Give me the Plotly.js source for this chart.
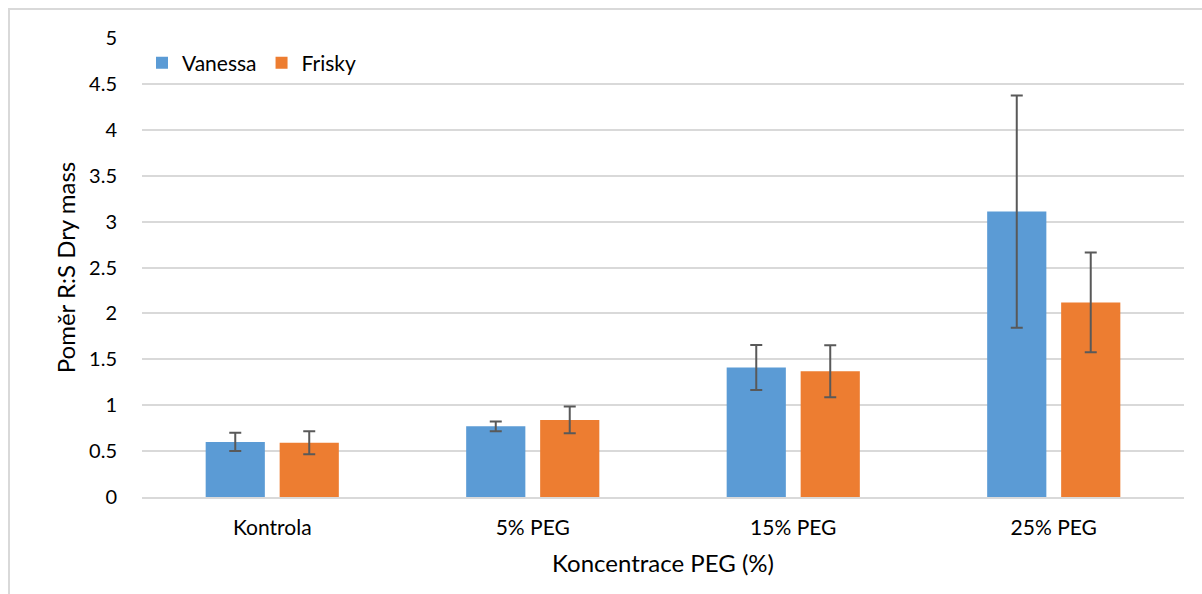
<!DOCTYPE html>
<html><head><meta charset="utf-8">
<script src="https://cdn.plot.ly/plotly-3.0.1.min.js"></script>
<style>
html,body{margin:0;padding:0;background:#fff;}
#wrap{position:relative;width:1202px;height:594px;}
#chart{position:absolute;left:0;top:0;width:1202px;height:594px;}
#frame{position:absolute;left:8px;top:8px;width:1200px;height:600px;border-left:2px solid #d9d9d9;border-top:2px solid #d9d9d9;pointer-events:none;}
</style></head>
<body><div id="wrap"><div id="chart"></div><div id="frame"></div></div>
<script>
const categories = ["Kontrola", "5% PEG", "15% PEG", "25% PEG"];
const vanessa = [0.60, 0.77, 1.41, 3.11];
const vanessaErr = [0.10, 0.053, 0.245, 1.265];
const frisky = [0.59, 0.84, 1.37, 2.12];
const friskyErr = [0.125, 0.145, 0.284, 0.544];
const yTicks = [0, 0.5, 1, 1.5, 2, 2.5, 3, 3.5, 4, 4.5, 5];
const yTickText = ["0", "0.5", "1", "1.5", "2", "2.5", "3", "3.5", "4", "4.5", "5"];

const FONT = "Lato, 'Open Sans', sans-serif";
const errStyle = {type:'data', visible:true, color:'#595959', thickness:2, width:6};

const traces = [
  {type:'bar', name:'Vanessa', x:categories, y:vanessa,
   marker:{color:'#5B9BD5'},
   error_y:Object.assign({array:vanessaErr}, errStyle)},
  {type:'bar', name:'Frisky', x:categories, y:frisky,
   marker:{color:'#ED7D31'},
   error_y:Object.assign({array:friskyErr}, errStyle)}
];

const layout = {
  width:1202, height:594,
  margin:{l:142, r:18, t:38, b:97},
  paper_bgcolor:'rgba(0,0,0,0)', plot_bgcolor:'#fff',
  font:{family:FONT, color:'#000', size:21},
  barmode:'group', bargap:0.432, bargroupgap:0.2,
  showlegend:true,
  legend:{orientation:'h', x:0.0, y:0.99, xanchor:'left', yanchor:'top',
          font:{size:21, family:FONT, color:'#000'}, bgcolor:'rgba(0,0,0,0)',
          itemwidth:30, traceorder:'normal'},
  xaxis:{type:'category', showgrid:false, showline:true, linecolor:'#d9d9d9', linewidth:2,
         ticks:'outside', ticklen:11, tickcolor:'rgba(0,0,0,0)',
         tickfont:{size:21, family:FONT, color:'#000'},
         title:{text:'Koncentrace PEG (%)', font:{size:24, family:FONT, color:'#000'}, standoff:17}},
  yaxis:{range:[0,5], tickvals:yTicks, ticktext:yTickText, showgrid:true, gridcolor:'#d9d9d9', gridwidth:2,
         zeroline:false, showline:false,
         ticks:'outside', ticklen:20, tickcolor:'rgba(0,0,0,0)',
         tickfont:{size:20, family:FONT, color:'#000'},
         title:{text:'Poměr R:S Dry mass', font:{size:24, family:FONT, color:'#000'}, standoff:6}}
};

Plotly.newPlot('chart', traces, layout, {displayModeBar:false, staticPlot:true});
</script></body></html>
